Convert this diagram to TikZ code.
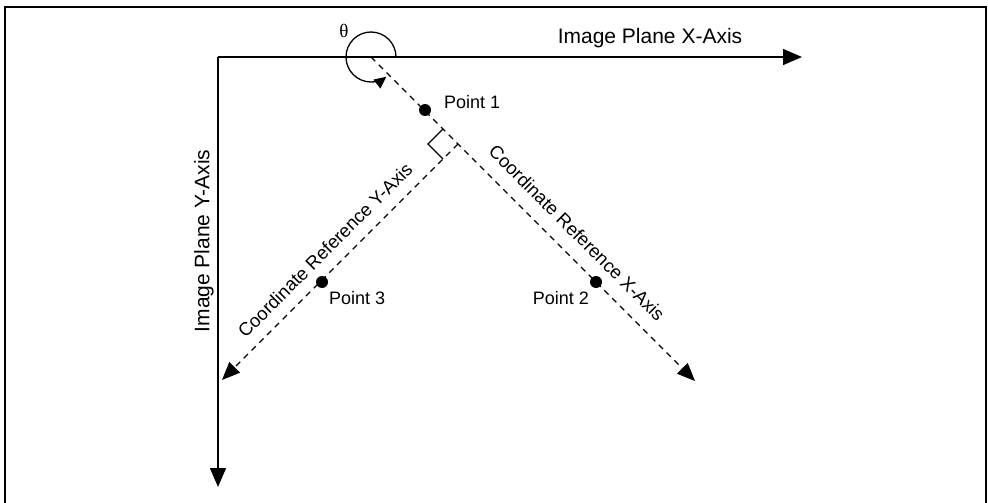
\documentclass[tikz,border=0pt]{standalone}
\usepackage{fontspec}
\setmainfont{Liberation Sans}
\newfontfamily\thetafont{Liberation Serif}
\usetikzlibrary{arrows.meta}

\begin{document}
\begin{tikzpicture}[x=1pt,y=-1pt,
  axis/.style={line width=1.4pt,-{Triangle[length=19pt,width=16pt]}},
  refaxis/.style={line width=1.1pt,dash pattern=on 6pt off 5pt,-{Triangle[length=18pt,width=15pt]}},
  ptdot/.style={circle,fill,inner sep=0pt,minimum size=12pt},
  biglabel/.style={font=\fontsize{21}{25}\selectfont},
  diaglabel/.style={font=\fontsize{18.5}{22}\selectfont},
  ptlabel/.style={font=\fontsize{18}{21}\selectfont,inner sep=0pt}]
\useasboundingbox (0,0) rectangle (988,503);
\draw[line width=2pt] (5,7) rectangle (986,506);

% image plane axes
\coordinate (O) at (218,57);
\coordinate (xtip) at (802,57);
\coordinate (ytip) at (218,487);
\draw[axis] (O) -- (xtip);
\draw[axis] (O) -- (ytip);
\node[biglabel] (xlabel) at (650,38) {Image Plane X-Axis};
\node[biglabel,rotate=90] (ylabel) at (204,241) {Image Plane Y-Axis};

% coordinate reference axes
\coordinate (C) at (371,57);
\coordinate (cxtip) at (695,381);
\coordinate (R) at (458,144);
\coordinate (cytip) at (222,380);
\draw[refaxis] (C) -- (cxtip);
\draw[refaxis] (R) -- (cytip);
\draw[line width=1.1pt] (443,129) -- (428,144) -- (443,159);
\node[diaglabel,rotate=-45] (cxlabel) at (577,233) {Coordinate Reference X-Axis};
\node[diaglabel,rotate=45] (cylabel) at (325,250) {Coordinate Reference Y-Axis};

% angle
\draw[line width=1.3pt,-{Triangle[length=12pt,width=11pt]}] (396,57) arc[start angle=0,end angle=-308,radius=25];
\node[font=\thetafont\fontsize{19}{22}\selectfont] (theta) at (344,31) {θ};

% points
\node[ptdot] (p1) at (425,110) {};
\node[ptdot] (p2) at (596,282) {};
\node[ptdot] (p3) at (322,282) {};
\node[ptlabel,anchor=west] (p1label) at (444,102) {Point 1};
\node[ptlabel,anchor=east] (p2label) at (589,298) {Point 2};
\node[ptlabel,anchor=west] (p3label) at (329,298) {Point 3};
\end{tikzpicture}
\end{document}
